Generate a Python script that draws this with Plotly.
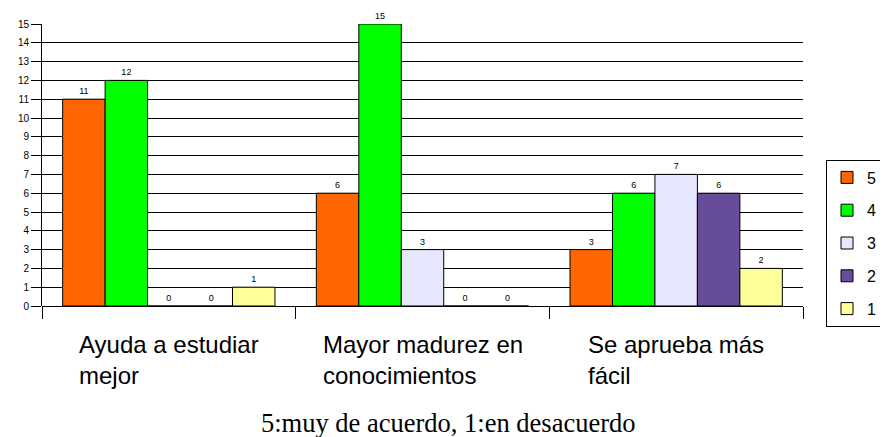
import plotly.graph_objects as go

categories = ["Ayuda a estudiar<br>mejor", "Mayor madurez en<br>conocimientos", "Se aprueba más<br>fácil"]
series_names = ["5", "4", "3", "2", "1"]
values_5 = [11, 6, 3]
values_4 = [12, 15, 6]
values_3 = [0, 3, 7]
values_2 = [0, 0, 6]
values_1 = [1, 0, 2]
y_ticks = list(range(0, 16))
footer = "5:muy de acuerdo, 1:en desacuerdo"

series_values = [values_5, values_4, values_3, values_2, values_1]
colors = ["#FF6600", "#00FF00", "#E6E6FF", "#664C99", "#FFFF99"]

x_idx = [0, 1, 2]
fig = go.Figure()
for name, vals, col in zip(series_names, series_values, colors):
    fig.add_trace(go.Bar(
        x=x_idx, y=vals, name=name, legendgroup=name,
        marker=dict(color=col, line=dict(color="black", width=1)),
        text=[str(v) for v in vals], textposition="outside",
        textfont=dict(family="Liberation Sans", size=9, color="black"),
        cliponaxis=False, constraintext="none",
    ))

annotations = []
for i, c in enumerate(categories):
    annotations.append(dict(
        x=i, y=-0.08, xref="x", yref="paper", text=c,
        xanchor="center", yanchor="top", align="left", showarrow=False,
        font=dict(family="Liberation Sans", size=24, color="black"),
    ))
annotations.append(dict(
    x=0.5336, y=-0.414, xref="paper", yref="paper", text=footer,
    xanchor="center", yanchor="middle", showarrow=False,
    font=dict(family="Liberation Serif", size=26.5, color="black"),
))

W, H = 880, 429
fig.update_layout(
    width=W, height=H,
    margin=dict(l=34, r=85, t=16, b=131),
    paper_bgcolor="white", plot_bgcolor="white",
    barmode="group", bargap=0.163, bargroupgap=0,
    showlegend=True,
    legend=dict(xref="container", yref="container", x=818 / W, y=1 - 235 / H,
                xanchor="left", yanchor="middle",
                bordercolor="black", borderwidth=1, bgcolor="white",
                font=dict(family="Liberation Sans", size=16, color="black"),
                tracegroupgap=9, traceorder="grouped", itemwidth=30),
    annotations=annotations,
    font=dict(family="Liberation Sans", color="black"),
)
fig.update_xaxes(
    type="linear", range=[-0.5, 2.5], tickvals=[-0.5, 0.5, 1.5, 2.5], ticktext=["", "", "", ""],
    ticks="outside", ticklen=12, tickcolor="black", tickwidth=1,
    showline=False, showgrid=False, zeroline=False, automargin=False,
)
fig.update_yaxes(
    range=[0, 15], tickvals=y_ticks, ticks="outside", ticklen=10, tickcolor="black",
    showgrid=True, gridcolor="black", gridwidth=1,
    showline=True, linecolor="black", linewidth=1,
    zeroline=True, zerolinecolor="black", zerolinewidth=1, automargin=False,
    tickfont=dict(family="Liberation Sans", size=10, color="black"),
)
fig.write_html("out.html")
